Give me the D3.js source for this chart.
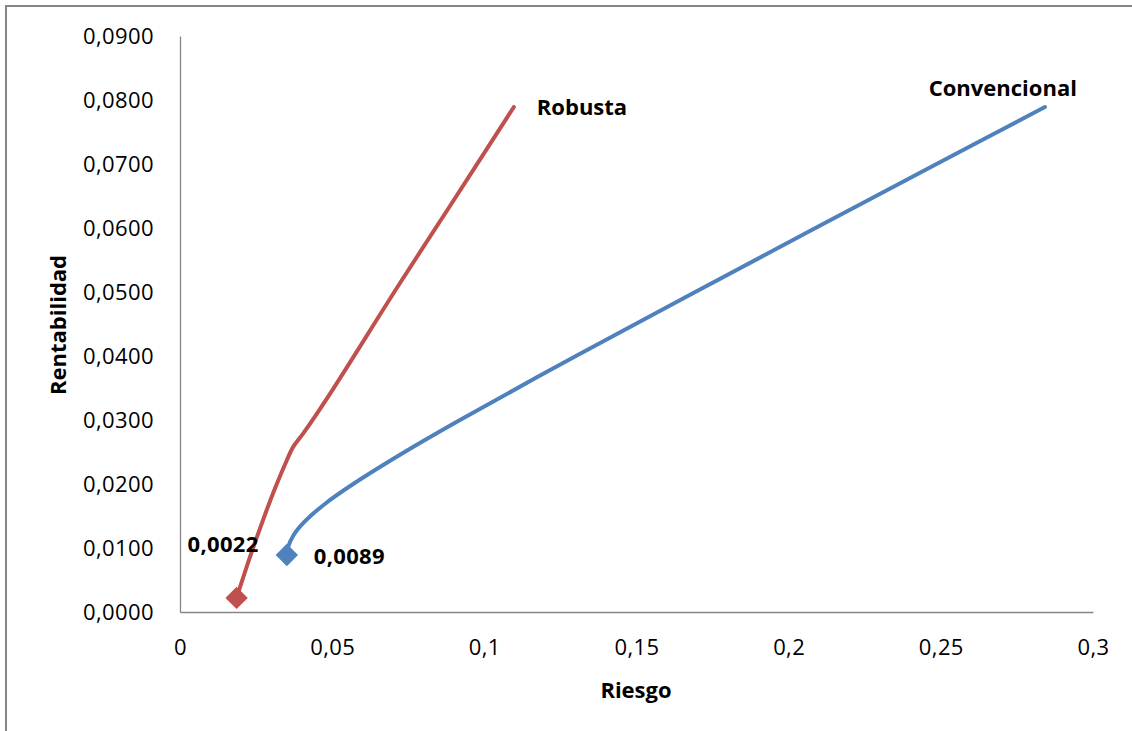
<!DOCTYPE html>
<html><head><meta charset="utf-8">
<script src="https://cdn.jsdelivr.net/npm/d3@7"></script>
<style>
html,body{margin:0;padding:0;background:#fff;}
svg{display:block;font-family:"Open Sans",sans-serif;}
</style></head>
<body>
<svg id="c" width="1132" height="731"></svg>
<script>
// ---- data ----
const robustaRisk   = [0.0186,0.0230,0.0273,0.0312,0.0350,0.0372,0.0405,0.0482,0.0723,0.0877,0.1097];
const robustaReturn = [0.0022,0.0086,0.0144,0.0193,0.0236,0.0258,0.0279,0.0333,0.0514,0.0627,0.0789];
const convRisk   = [0.0351,0.0354,0.0373,0.0407,0.0479,0.0569,0.0738,0.0920,0.1301,0.1693,0.2088,0.2486,0.2842];
const convReturn = [0.0089,0.0100,0.0120,0.0140,0.0170,0.0200,0.0250,0.0300,0.0400,0.0500,0.0600,0.0700,0.0789];
const xTicks = [0,0.05,0.1,0.15,0.2,0.25,0.3];
const xTickLabels = ["0","0,05","0,1","0,15","0,2","0,25","0,3"];
const yTicks = [0,0.01,0.02,0.03,0.04,0.05,0.06,0.07,0.08,0.09];
const yTickLabels = ["0,0000","0,0100","0,0200","0,0300","0,0400","0,0500","0,0600","0,0700","0,0800","0,0900"];
const seriesNames = ["Robusta","Convencional"];
const minLabels = ["0,0022","0,0089"];

const svg = d3.select("#c");
const x = d3.scaleLinear().domain([0,0.3]).range([180,1093]);
const y = d3.scaleLinear().domain([0,0.09]).range([612,36]);

// outer frame
svg.append("rect").attr("x",6).attr("y",6).attr("width",1140).attr("height",740)
  .attr("fill","#fff").attr("stroke","#868686").attr("stroke-width",2);

// axes
const xAxis = d3.axisBottom(x).tickValues(xTicks).tickFormat((d,i)=>xTickLabels[i]).tickSize(0).tickPadding(27);
const gx = svg.append("g").attr("transform",`translate(0,${y(0)})`).call(xAxis);
const yAxis = d3.axisLeft(y).tickValues(yTicks).tickFormat((d,i)=>yTickLabels[i]).tickSize(0).tickPadding(26);
const gy = svg.append("g").attr("transform",`translate(${x(0)},0)`).call(yAxis);
[gx,gy].forEach(g=>{
  g.select(".domain").attr("stroke","#868686").attr("stroke-width",1.3);
  g.selectAll("text").attr("font-family","Open Sans").attr("font-size",22)
    .attr("letter-spacing","0.4px").attr("fill","#000");
});
gy.selectAll("text").attr("dy","0.35em");
gx.selectAll("text").attr("dy","0.71em");

// axis titles
svg.append("text").attr("x",636).attr("y",698).attr("text-anchor","middle")
  .attr("font-weight","bold").attr("font-size",22).text("Riesgo");
svg.append("text").attr("transform","translate(66,325) rotate(-90)").attr("text-anchor","middle")
  .attr("font-weight","bold").attr("font-size",22).text("Rentabilidad");

const line = d3.line().x(d=>x(d[0])).y(d=>y(d[1])).curve(d3.curveCatmullRom.alpha(0.5));
const rob = robustaRisk.map((v,i)=>[v,robustaReturn[i]]);
const conv = convRisk.map((v,i)=>[v,convReturn[i]]);
const colors = ["#C0504D","#4F81BD"];

[rob,conv].forEach((data,k)=>{
  svg.append("path").datum(data).attr("d",line).attr("fill","none")
    .attr("stroke",colors[k]).attr("stroke-width",4).attr("stroke-linecap","round");
});
// diamond markers at first point
[rob,conv].forEach((data,k)=>{
  const p = data[0];
  svg.append("path").attr("d",d3.symbol().type(d3.symbolSquare).size(250)())
    .attr("transform",`translate(${x(p[0])},${y(p[1])}) rotate(45)`)
    .attr("fill",colors[k]);
});

// data labels
svg.append("text").attr("x",x(rob[0][0])-49).attr("y",y(rob[0][1])-46)
  .attr("font-weight","bold").attr("font-size",22).attr("letter-spacing","0.3px").text(minLabels[0]);
svg.append("text").attr("x",x(conv[0][0])+27).attr("y",y(conv[0][1])+9)
  .attr("font-weight","bold").attr("font-size",22).attr("letter-spacing","0.3px").text(minLabels[1]);
// series name labels
const rEnd = rob[rob.length-1], cEnd = conv[conv.length-1];
svg.append("text").attr("x",x(rEnd[0])+23).attr("y",y(rEnd[1])+8)
  .attr("font-weight","bold").attr("font-size",22).text(seriesNames[0]);
svg.append("text").attr("x",x(cEnd[0])+32).attr("y",y(cEnd[1])-11).attr("text-anchor","end")
  .attr("font-weight","bold").attr("font-size",22).text(seriesNames[1]);
</script>
</body></html>
